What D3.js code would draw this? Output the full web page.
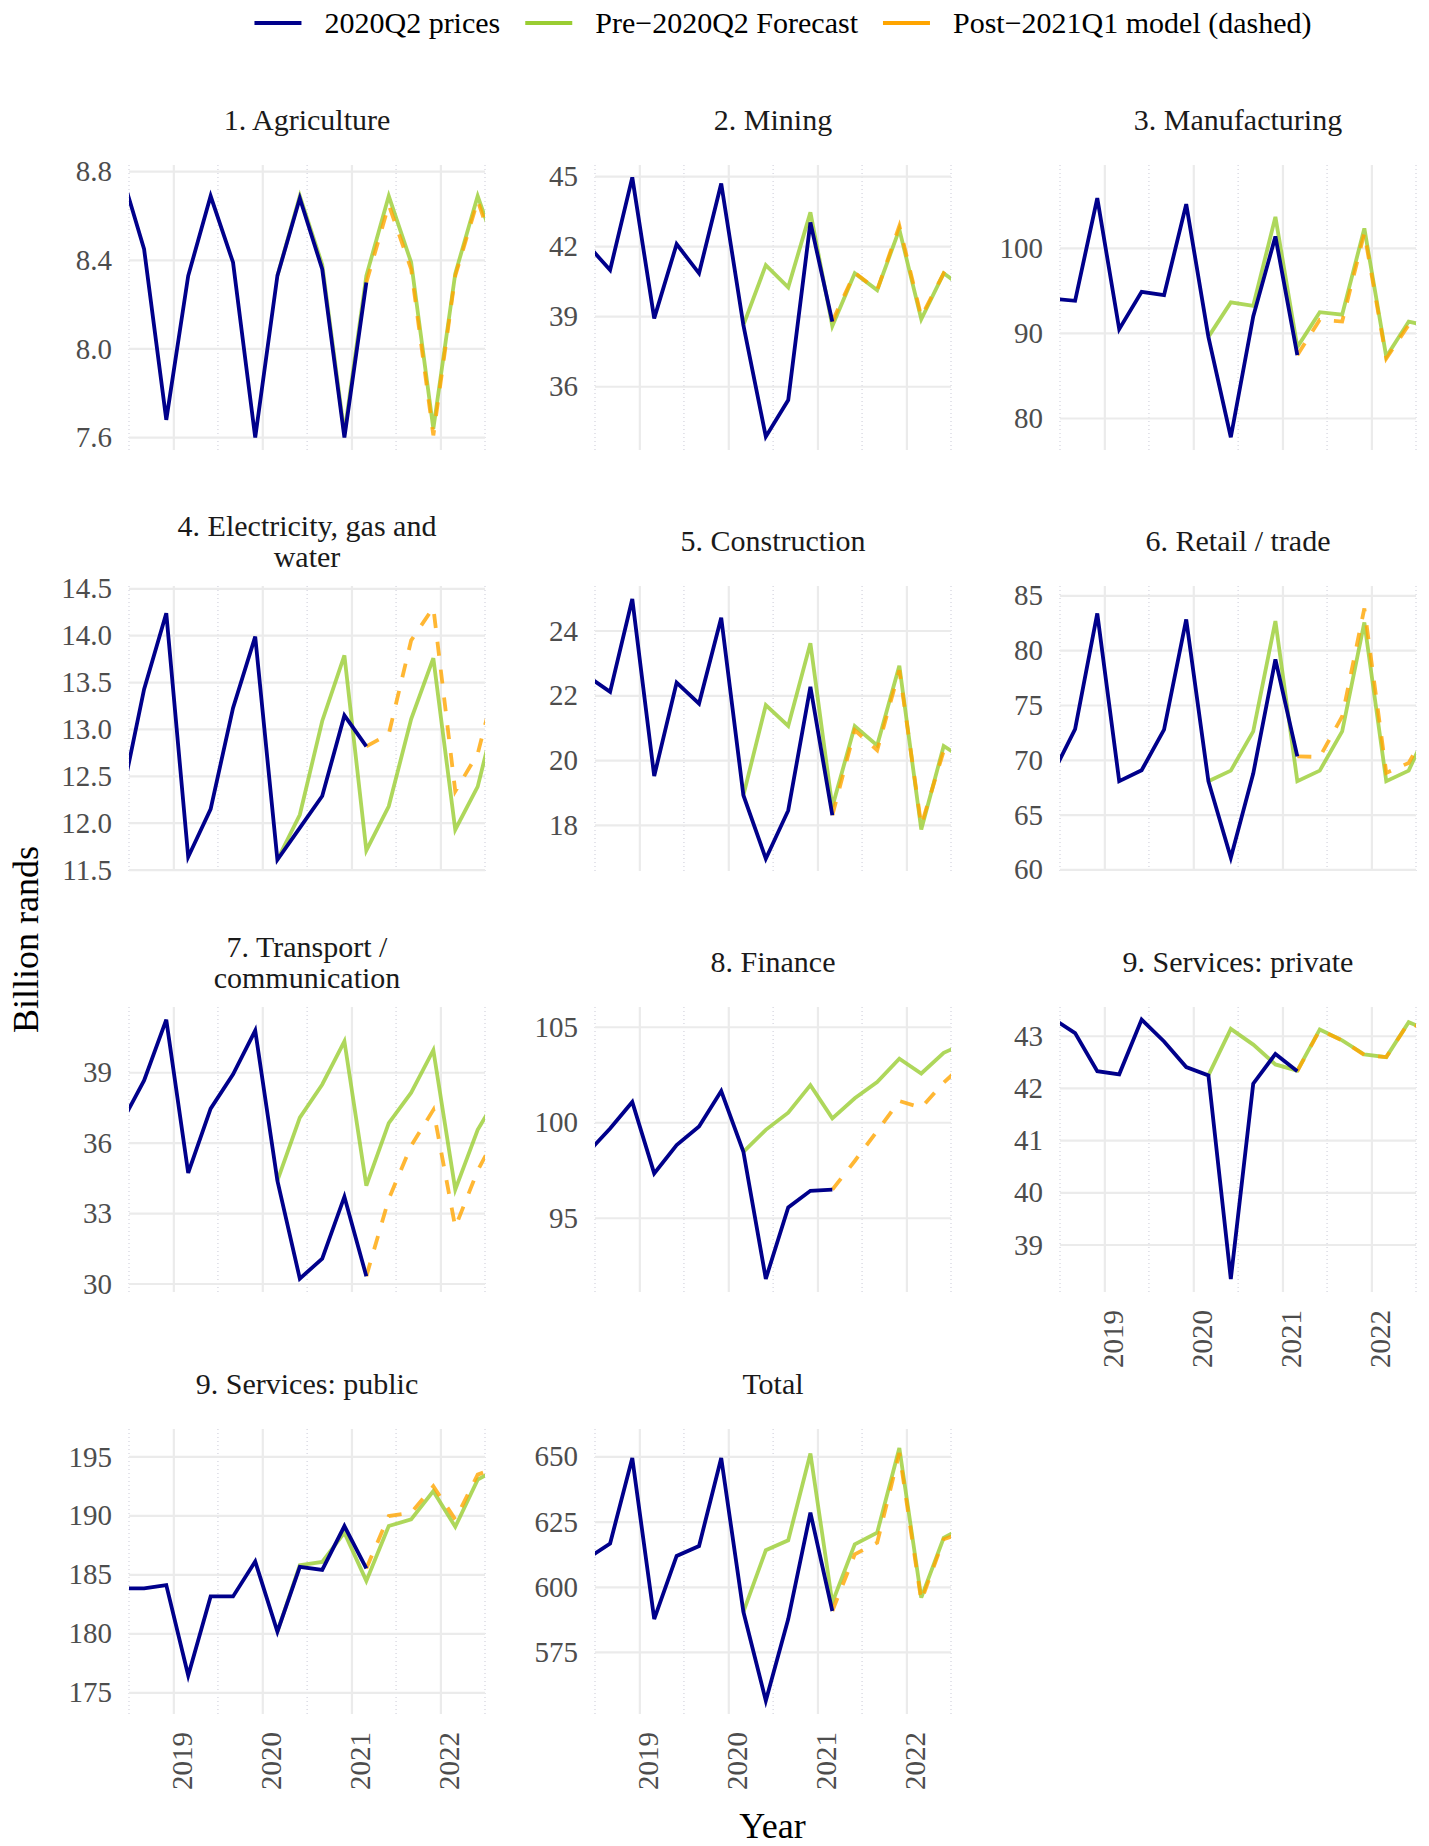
<!DOCTYPE html>
<meta charset="utf-8">
<script src="https://d3js.org/d3.v7.min.js"></script>
<style>
  body { margin: 0; background: #fff; }
  svg text { font-family: "Liberation Serif", "Times New Roman", serif; }
</style>
<div id="chart"></div>
<script>

// quarters covered by each series
var quartersActual = ["2018Q2","2018Q3","2018Q4","2019Q1","2019Q2","2019Q3","2019Q4","2020Q1","2020Q2","2020Q3","2020Q4","2021Q1"];
var quartersForecast = ["2020Q1","2020Q2","2020Q3","2020Q4","2021Q1","2021Q2","2021Q3","2021Q4","2022Q1","2022Q2","2022Q3"];
var quartersModel = ["2021Q1","2021Q2","2021Q3","2021Q4","2022Q1","2022Q2","2022Q3"];

var seriesNames = ["2020Q2 prices", "Pre\u22122020Q2 Forecast", "Post\u22122021Q1 model (dashed)"];
var yearTicks = ["2019", "2020", "2021", "2022"];

// 1. Agriculture
var agriActual   = [8.79, 8.45, 7.68, 8.33, 8.69, 8.39, 7.60, 8.33, 8.68, 8.36, 7.60, 8.30];
var agriForecast = [8.33, 8.69, 8.38, 7.62, 8.33, 8.69, 8.39, 7.64, 8.34, 8.69, 8.40];
var agriModel    = [8.30, 8.65, 8.36, 7.61, 8.33, 8.67, 8.37];
// 2. Mining
var miningActual   = [42.07, 41.0, 44.97, 38.93, 42.11, 40.86, 44.71, 38.64, 33.86, 35.43, 43.04, 38.79];
var miningForecast = [38.64, 41.21, 40.26, 43.47, 38.6, 40.86, 40.14, 42.74, 38.89, 40.86, 40.17];
var miningModel    = [38.79, 40.89, 40.14, 42.89, 39.0, 40.86, 40.2];
// 3. Manufacturing
var manuActual   = [94.07, 93.84, 105.9, 90.5, 94.9, 94.5, 105.2, 89.6, 77.8, 92.0, 101.4, 87.45];
var manuForecast = [89.6, 93.65, 93.25, 103.7, 88.4, 92.5, 92.2, 102.35, 87.25, 91.4, 90.8];
var manuModel    = [87.45, 91.6, 91.4, 101.8, 87.05, 91.0, 90.7];
// 4. Electricity, gas and water
var elecActual   = [12.27, 13.43, 14.24, 11.64, 12.15, 13.23, 13.99, 11.61, 11.95, 12.29, 13.15, 12.82];
var elecForecast = [11.61, 12.09, 13.09, 13.79, 11.71, 12.18, 13.11, 13.76, 11.93, 12.39, 13.35];
var elecModel    = [12.82, 12.95, 13.95, 14.30, 12.34, 12.74, 13.67];
// 5. Construction
var consActual   = [22.6, 22.12, 24.99, 19.52, 22.41, 21.76, 24.41, 18.93, 16.97, 18.46, 22.28, 18.31];
var consForecast = [18.93, 21.71, 21.07, 23.62, 18.57, 21.06, 20.47, 22.93, 17.87, 20.45, 20.0];
var consModel    = [18.31, 20.94, 20.32, 22.79, 18.0, 20.3, 19.9];
// 6. Retail / trade
var retailActual   = [68.76, 72.85, 83.4, 68.09, 69.09, 72.79, 82.85, 68.09, 61.12, 68.79, 79.21, 70.36];
var retailForecast = [68.09, 69.06, 72.64, 82.7, 68.09, 69.06, 72.64, 82.58, 68.09, 69.06, 73.5];
var retailModel    = [70.36, 70.3, 74.0, 83.85, 68.85, 69.76, 73.3];
// 7. Transport / communication
var transActual   = [36.88, 38.67, 41.26, 34.73, 37.47, 38.93, 40.8, 34.4, 30.23, 31.08, 33.72, 30.33];
var transForecast = [34.4, 37.09, 38.5, 40.34, 34.19, 36.85, 38.15, 39.96, 34.02, 36.57, 38.18];
var transModel    = [30.33, 33.62, 35.89, 37.42, 32.42, 34.83, 36.64];
// 8. Finance
var finActual   = [98.44, 99.7, 101.09, 97.35, 98.83, 99.8, 101.66, 98.48, 91.83, 95.57, 96.44, 96.5];
var finForecast = [98.48, 99.63, 100.53, 101.97, 100.23, 101.28, 102.13, 103.35, 102.58, 103.66, 104.2];
var finModel    = [96.5, 98.0, 99.57, 101.14, 100.79, 102.1, 103.2];
// 9. Services: private
var privActual   = [43.34, 43.06, 42.33, 42.27, 43.32, 42.9, 42.41, 42.25, 38.35, 42.09, 42.66, 42.33];
var privForecast = [42.25, 43.14, 42.84, 42.46, 42.34, 43.13, 42.92, 42.65, 42.6, 43.27, 43.09];
var privModel    = [42.33, 43.12, 42.92, 42.64, 42.6, 43.26, 43.08];
// 9. Services: public
var pubActual   = [183.85, 183.85, 184.13, 176.46, 183.17, 183.17, 186.13, 180.18, 185.68, 185.42, 189.14, 185.54];
var pubForecast = [180.18, 185.82, 186.1, 188.58, 184.49, 189.14, 189.7, 192.1, 189.08, 193.08, 194.1];
var pubModel    = [185.54, 189.99, 190.27, 192.52, 189.7, 193.5, 194.2];
// Total
var totalActual   = [611.1, 616.8, 649.6, 587.8, 612.0, 615.8, 649.6, 590.6, 556.5, 587.8, 628.6, 590.9];
var totalForecast = [590.6, 614.2, 618.0, 651.3, 594.1, 616.5, 620.9, 653.4, 596.0, 619.0, 623.5];
var totalModel    = [590.9, 612.6, 617.1, 651.5, 594.8, 618.4, 621.5];

// panel titles, y ranges and tick labels
var titles = ["1. Agriculture", "2. Mining", "3. Manufacturing", "4. Electricity, gas and\nwater",
  "5. Construction", "6. Retail / trade", "7. Transport /\ncommunication", "8. Finance",
  "9. Services: private", "9. Services: public", "Total"];
var yRanges = [[7.544, 8.83], [33.29, 45.5], [76.3, 109.8], [11.49, 14.53], [16.59, 25.39],
  [59.9, 85.9], [29.66, 41.8], [91.14, 106.06], [38.1, 43.56], [173.2, 197.37], [551.4, 660.7]];
var yTicks = [
  ["7.6", "8.0", "8.4", "8.8"],
  ["36", "39", "42", "45"],
  ["80", "90", "100"],
  ["11.5", "12.0", "12.5", "13.0", "13.5", "14.0", "14.5"],
  ["18", "20", "22", "24"],
  ["60", "65", "70", "75", "80", "85"],
  ["30", "33", "36", "39"],
  ["95", "100", "105"],
  ["39", "40", "41", "42", "43"],
  ["175", "180", "185", "190", "195"],
  ["575", "600", "625", "650"]
];

var actualList = [agriActual, miningActual, manuActual, elecActual, consActual, retailActual, transActual, finActual, privActual, pubActual, totalActual];
var forecastList = [agriForecast, miningForecast, manuForecast, elecForecast, consForecast, retailForecast, transForecast, finForecast, privForecast, pubForecast, totalForecast];
var modelList = [agriModel, miningModel, manuModel, elecModel, consModel, retailModel, transModel, finModel, privModel, pubModel, totalModel];

// layout
var W = 1429, H = 1846;
var colX = [129, 595, 1060], rowY = [165, 586, 1007, 1429];
var pw = 356, ph = 285;
var colors = ["#00008B", "#9ACD32", "#FFA500"];
var lw = 3.8;

function qDate(q) {
  var yr = +q.slice(0, 4), n = +q.slice(5);
  return new Date(yr, 3 * n - 1, 1);
}
function pairs(qs, vals) {
  return qs.map(function(q, i) { return {date: qDate(q), v: vals[i]}; });
}

var svg = d3.select("#chart").append("svg")
  .attr("width", W).attr("height", H)
  .style("background", "#fff");

var x = d3.scaleTime()
  .domain([new Date(2018, 6, 1), new Date(2022, 6, 1)])
  .range([0, pw]);
var majorX = yearTicks.map(function(y) { return new Date(+y, 0, 1); });
var minorX = d3.range(2018, 2023).map(function(y) { return new Date(y, 6, 1); });

titles.forEach(function(title, i) {
  var row = Math.floor(i / 3), col = i % 3;
  var g = svg.append("g").attr("transform", "translate(" + colX[col] + "," + rowY[row] + ")");

  var y = d3.scaleLinear().domain(yRanges[i]).range([ph, 0]);

  // grid
  g.selectAll(".minor").data(minorX).enter().append("line")
    .attr("x1", function(d) { return x(d); }).attr("x2", function(d) { return x(d); })
    .attr("y1", 0).attr("y2", ph)
    .attr("stroke", "#c9c9d6").attr("stroke-width", 1).attr("stroke-dasharray", "1,3");
  g.selectAll(".majx").data(majorX).enter().append("line")
    .attr("x1", function(d) { return x(d); }).attr("x2", function(d) { return x(d); })
    .attr("y1", 0).attr("y2", ph)
    .attr("stroke", "#EBEBEB").attr("stroke-width", 2.2);
  g.selectAll(".majy").data(yTicks[i]).enter().append("line")
    .attr("x1", 0).attr("x2", pw)
    .attr("y1", function(d) { return y(+d); }).attr("y2", function(d) { return y(+d); })
    .attr("stroke", "#EBEBEB").attr("stroke-width", 2.2);

  // y tick labels
  g.selectAll(".ylab").data(yTicks[i]).enter().append("text")
    .attr("x", -17).attr("y", function(d) { return y(+d); })
    .attr("dy", "0.33em")
    .attr("text-anchor", "end")
    .attr("font-size", 29).attr("fill", "#4D4D4D")
    .text(function(d) { return d; });

  // x tick labels on the bottom panel of each column
  if (i + 3 >= titles.length) {
    g.selectAll(".xlab").data(yearTicks).enter().append("text")
      .attr("transform", function(d) { return "translate(" + x(new Date(+d, 0, 1)) + "," + (ph + 18) + ") rotate(-90)"; })
      .attr("y", 18)
      .attr("text-anchor", "end")
      .attr("font-size", 29).attr("fill", "#4D4D4D")
      .text(function(d) { return d; });
  }

  // strip title
  var lines = title.split("\n");
  var t = g.append("text")
    .attr("x", pw / 2)
    .attr("text-anchor", "middle")
    .attr("font-size", 30).attr("fill", "#1A1A1A");
  lines.forEach(function(l, k) {
    t.append("tspan").attr("x", pw / 2)
      .attr("y", -35 + (k - (lines.length - 1) / 2) * 31)
      .text(l);
  });

  // clip
  var cid = "clip" + i;
  g.append("clipPath").attr("id", cid).append("rect")
    .attr("width", pw).attr("height", ph);

  var line = d3.line()
    .x(function(d) { return x(d.date); })
    .y(function(d) { return y(d.v); });

  var lg = g.append("g").attr("clip-path", "url(#" + cid + ")");
  lg.append("path").datum(pairs(quartersForecast, forecastList[i]))
    .attr("d", line).attr("fill", "none")
    .attr("stroke", colors[1]).attr("stroke-opacity", 0.8)
    .attr("stroke-width", lw).attr("stroke-linejoin", "miter");
  lg.append("path").datum(pairs(quartersModel, modelList[i]))
    .attr("d", line).attr("fill", "none")
    .attr("stroke", colors[2]).attr("stroke-opacity", 0.8)
    .attr("stroke-width", lw).attr("stroke-dasharray", "14,14")
    .attr("stroke-linejoin", "miter");
  lg.append("path").datum(pairs(quartersActual, actualList[i]))
    .attr("d", line).attr("fill", "none")
    .attr("stroke", colors[0])
    .attr("stroke-width", lw).attr("stroke-linejoin", "miter");
});

// axis titles
svg.append("text")
  .attr("transform", "translate(38," + ((rowY[0] + rowY[3] + ph) / 2) + ") rotate(-90)")
  .attr("text-anchor", "middle").attr("font-size", 36).attr("fill", "#000")
  .text("Billion rands");
svg.append("text")
  .attr("x", (colX[0] + colX[2] + pw) / 2).attr("y", 1838)
  .attr("text-anchor", "middle").attr("font-size", 36).attr("fill", "#000")
  .text("Year");

// caption (mostly cut off at the bottom edge, as in the source figure)
svg.append("text")
  .attr("x", 12).attr("y", 1866)
  .attr("font-size", 29).attr("fill", "#000")
  .text("Source: own calculations");

// legend
var legend = svg.append("g");
var items = legend.selectAll("g").data(seriesNames).enter().append("g");
items.append("line")
  .attr("x1", 0).attr("x2", 47).attr("y1", 0).attr("y2", 0)
  .attr("stroke", function(d, k) { return colors[k]; })
  .attr("stroke-width", 4);
items.append("text")
  .attr("x", 70).attr("dy", "0.33em")
  .attr("font-size", 30).attr("fill", "#000")
  .text(function(d) { return d; });
var gap = 25;
var offs = [], cur = 0;
items.each(function() {
  offs.push(cur);
  cur += 70 + this.querySelector("text").getComputedTextLength() + gap;
});
cur -= gap;
items.attr("transform", function(d, k) { return "translate(" + offs[k] + ",0)"; });
legend.attr("transform", "translate(" + (783 - cur / 2) + ",23)");

</script>
